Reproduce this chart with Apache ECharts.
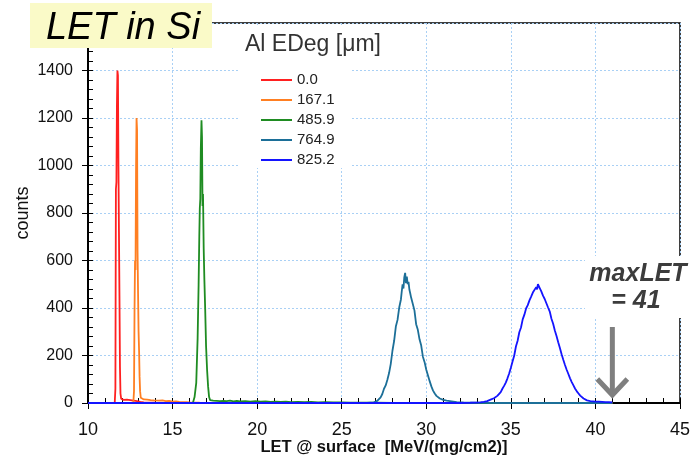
<!DOCTYPE html>
<html>
<head>
<meta charset="utf-8">
<script src="https://cdn.jsdelivr.net/npm/echarts@6/dist/echarts.min.js"></script>
<style>
html,body{margin:0;padding:0;background:#fff;}
#chart{width:692px;height:458px;}
</style>
</head>
<body>
<div id="chart"></div>
<script>
// ---- data ----
const seriesNames = ['0.0', '167.1', '485.9', '764.9', '825.2'];
const seriesColors = ['#ff2020', '#ff7f22', '#1f8c22', '#1c6f98', '#1414ff'];

const edeg0 = [[10,0],[11.58,0],[11.62,60],[11.65,900],[11.68,930],[11.71,1250],[11.74,1400],[11.77,1380],[11.8,1000],[11.83,720],[11.86,450],[11.89,150],[11.92,40],[11.96,18],[12.0,15],[12.1,13],[12.2,18],[12.3,14],[12.4,16],[12.5,12],[12.6,15],[12.7,10],[12.8,12],[12.9,8],[13.0,7],[13.1,5],[13.3,3],[13.6,2],[14.0,1],[15.0,0],[41,0]];

const edeg167 = [[10,0],[12.68,0],[12.72,50],[12.75,380],[12.78,600],[12.81,560],[12.84,980],[12.87,1200],[12.9,1150],[12.93,640],[12.96,460],[12.99,300],[13.02,220],[13.05,110],[13.08,50],[13.12,22],[13.2,18],[13.3,15],[13.4,19],[13.5,14],[13.6,17],[13.7,12],[13.8,15],[13.9,11],[14.0,13],[14.2,10],[14.4,11],[14.6,8],[14.8,9],[15.0,6],[15.2,7],[15.4,5],[15.6,4],[15.8,4],[16.0,3],[16.3,2],[16.6,1],[17,0],[41,0]];

const edeg486 = [[10,0],[16.2,0],[16.3,25],[16.4,85],[16.48,270],[16.54,500],[16.58,700],[16.61,820],[16.64,860],[16.67,1070],[16.71,1190],[16.74,1120],[16.77,830],[16.8,880],[16.84,650],[16.88,520],[16.93,390],[16.98,240],[17.04,140],[17.1,70],[17.16,25],[17.22,12],[17.3,13],[17.4,10],[17.5,12],[17.6,9],[17.7,11],[17.8,8],[17.9,10],[18.0,9],[18.2,8],[18.4,10],[18.6,7],[18.8,9],[19.0,7],[19.3,8],[19.6,6],[19.9,8],[20.2,6],[20.5,7],[20.8,5],[21.1,6],[21.4,5],[21.7,6],[22.0,4],[22.4,5],[22.8,4],[23.2,5],[23.6,3],[24.0,4],[24.5,3],[25.0,3],[25.5,2],[26.0,2],[27.0,1],[28,0],[41,0]];

const edeg765 = [[10,0],[26.5,0],[26.7,2],[26.9,3],[27.0,5],[27.1,9],[27.2,14],[27.3,24],[27.4,38],[27.5,60],[27.6,74],[27.7,98],[27.8,126],[27.9,165],[28.0,220],[28.1,262],[28.2,322],[28.3,350],[28.4,402],[28.5,436],[28.55,470],[28.6,500],[28.65,482],[28.7,530],[28.75,548],[28.8,505],[28.85,532],[28.9,500],[28.95,510],[29.0,478],[29.05,462],[29.1,445],[29.2,418],[29.3,390],[29.4,332],[29.5,308],[29.6,268],[29.7,242],[29.8,195],[29.9,172],[30.0,140],[30.1,116],[30.2,92],[30.3,70],[30.4,52],[30.5,40],[30.6,30],[30.7,22],[30.8,19],[30.9,15],[31.0,13],[31.2,10],[31.4,8],[31.6,6],[31.8,4],[32.2,3],[32.8,2],[33.5,1],[34.5,0],[41,0]];

const edeg825 = [[10,0],[32.0,0],[32.6,1],[33.0,2],[33.2,3],[33.4,5],[33.6,8],[33.8,14],[34.0,20],[34.1,25],[34.2,30],[34.3,38],[34.4,46],[34.5,60],[34.6,72],[34.7,86],[34.8,104],[34.9,124],[35.0,148],[35.1,175],[35.2,200],[35.3,238],[35.4,262],[35.5,298],[35.6,318],[35.7,352],[35.8,372],[35.9,398],[36.0,412],[36.1,432],[36.2,448],[36.3,465],[36.4,472],[36.5,488],[36.55,478],[36.6,500],[36.65,506],[36.7,485],[36.75,492],[36.8,470],[36.9,452],[37.0,438],[37.1,420],[37.2,402],[37.3,385],[37.4,355],[37.5,334],[37.6,305],[37.7,282],[37.8,256],[37.9,232],[38.0,205],[38.1,182],[38.2,160],[38.3,140],[38.4,122],[38.5,104],[38.6,88],[38.7,74],[38.8,60],[38.9,49],[39.0,40],[39.1,31],[39.2,24],[39.3,19],[39.4,14],[39.5,11],[39.6,9],[39.7,8],[39.8,7],[40.0,6],[40.2,6],[40.4,5],[40.6,4],[40.8,4],[41.0,3]];

const seriesData = [edeg0, edeg167, edeg486, edeg765, edeg825];

const xMin = 10, xMax = 45, xStep = 5, xMinorStep = 1;
const yMin = 0, yMax = 1600, yStep = 200, yMinorStep = 40;
const maxLET = 41;

// ---- chart ----
const chart = echarts.init(document.getElementById('chart'));
const gridColor = '#a9d0f5';
const font = '"Liberation Sans", Arial, sans-serif';

const option = {
  animation: false,
  backgroundColor: '#fff',
  grid: { left: 88, right: 12, top: 23, bottom: 55, show: true, borderColor: '#000', borderWidth: 1.5, backgroundColor: 'transparent', containLabel: false, outerBoundsMode: 'none' },
  legend: {
    orient: 'vertical', left: 256, top: 67,
    itemWidth: 31, itemHeight: 2, itemGap: 4, icon: 'rect',
    textStyle: { fontSize: 15, lineHeight: 16, color: '#222', fontFamily: font },
    data: seriesNames
  },
  xAxis: [
    {
      type: 'value', min: xMin, max: xMax, interval: xStep,
      name: 'LET @ surface  [MeV/(mg/cm2)]', nameLocation: 'middle', nameGap: 36, nameMoveOverlap: false,
      nameTextStyle: { fontSize: 16.5, fontWeight: 'bold', color: '#111', fontFamily: font },
      axisLine: { onZero: false, lineStyle: { color: '#000', width: 2 } },
      axisTick: { inside: false, length: 6, lineStyle: { color: '#000', width: 1 } },
      axisLabel: { fontSize: 18, color: '#111', margin: 18, fontFamily: font },
      splitLine: { show: true, lineStyle: { color: gridColor, type: [2, 2], width: 1 } }
    },
    {
      type: 'value', min: xMin, max: xMax, interval: xMinorStep, position: 'bottom',
      axisLine: { show: false }, axisLabel: { show: false }, splitLine: { show: false },
      axisTick: { inside: true, length: 5, lineStyle: { color: '#000', width: 1 } }
    }
  ],
  yAxis: [
    {
      type: 'value', min: yMin, max: yMax, interval: yStep,
      name: 'counts', nameLocation: 'middle', nameGap: 56, nameMoveOverlap: false,
      nameTextStyle: { fontSize: 18, color: '#111', fontFamily: font },
      axisLine: { onZero: false, lineStyle: { color: '#000', width: 2 } },
      axisTick: { inside: false, length: 6, lineStyle: { color: '#000', width: 1 } },
      axisLabel: { fontSize: 16, color: '#111', margin: 15, fontFamily: font, formatter: v => String(v) },
      splitLine: { show: true, lineStyle: { color: gridColor, type: [2, 2], width: 1 } }
    },
    {
      type: 'value', min: yMin, max: yMax, interval: yMinorStep, position: 'left',
      axisLine: { show: false }, axisLabel: { show: false }, splitLine: { show: false },
      axisTick: { inside: true, length: 5, lineStyle: { color: '#000', width: 1 } }
    }
  ],
  series: seriesNames.map((n, i) => ({
    name: n, type: 'line', xAxisIndex: 0, yAxisIndex: 0,
    data: seriesData[i], showSymbol: false, symbol: 'none',
    lineStyle: { color: seriesColors[i], width: 1.8 },
    itemStyle: { color: seriesColors[i] },
    z: 2 + i
  }))
};
chart.setOption(option);

// annotations positioned from data scale
const ax = chart.convertToPixel({ xAxisIndex: 0 }, maxLET);
const ayTop = chart.convertToPixel({ yAxisIndex: 0 }, 320);
const ayTip = chart.convertToPixel({ yAxisIndex: 0 }, 25);

chart.setOption({
  graphic: [
    // legend background
    { type: 'rect', shape: { x: 240, y: 27, width: 112, height: 141 }, style: { fill: '#fff' }, z: 1 },
    { type: 'text', x: 245, y: 45, style: { text: 'Al EDeg [μm]', font: '23px "Liberation Sans", Arial, sans-serif', fill: '#333', textVerticalAlign: 'middle' }, z: 5 },
    // title
    { type: 'rect', shape: { x: 30, y: 3, width: 182, height: 45 }, style: { fill: '#fafac8' }, z: 100 },
    { type: 'text', x: 123, y: 28, style: { text: 'LET in Si', font: 'italic 38px "Liberation Sans", Arial, sans-serif', fill: '#000', textAlign: 'center', textVerticalAlign: 'middle' }, z: 101 },
    // maxLET box
    { type: 'rect', shape: { x: 585, y: 256, width: 107, height: 62 }, style: { fill: '#fff' }, z: 50 },
    { type: 'text', x: 638, y: 274, style: { text: 'maxLET', font: 'italic bold 25px "Liberation Sans", Arial, sans-serif', fill: '#3c3c3c', textAlign: 'center', textVerticalAlign: 'middle' }, z: 51 },
    { type: 'text', x: 636, y: 301, style: { text: '= 41', font: 'italic bold 25px "Liberation Sans", Arial, sans-serif', fill: '#3c3c3c', textAlign: 'center', textVerticalAlign: 'middle' }, z: 51 },
    // arrow
    { type: 'line', shape: { x1: ax, y1: ayTop, x2: ax, y2: ayTip - 2 }, style: { stroke: '#7f7f7f', lineWidth: 5 }, z: 52 },
    { type: 'polyline', shape: { points: [[ax - 15, ayTip - 18], [ax, ayTip - 2], [ax + 15, ayTip - 18]] }, style: { stroke: '#7f7f7f', lineWidth: 5, fill: null }, z: 52 }
  ]
});
</script>
</body>
</html>
